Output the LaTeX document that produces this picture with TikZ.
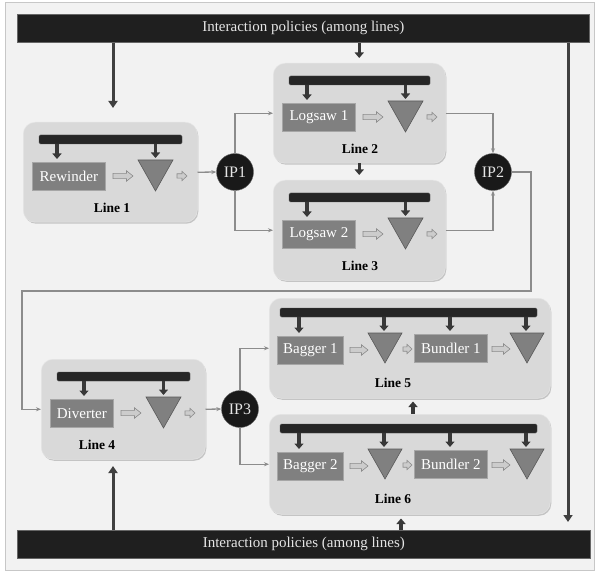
\documentclass[tikz,border=0pt]{standalone}
\usepackage{fontspec}
\setmainfont{Liberation Serif}
\usetikzlibrary{arrows.meta,shadows,calc}

\tikzset{
 frame/.style={fill=black!5, draw=black!22, line width=1pt},
 policybar/.style={fill=black!88, draw=black!60, line width=0.6pt, text=white!90!black, font=\fontsize{15}{17}\selectfont, inner sep=0pt},
 linebox/.style={rounded corners=12pt, fill=black!15, draw=black!10, line width=0.5pt, drop shadow={shadow xshift=1pt, shadow yshift=-1.5pt, fill=black!35, opacity=0.6}, inner sep=0pt},
 innerbar/.style={fill=black!85, draw=black!70, rounded corners=1.5pt},
 module/.style={fill=black!50, draw=black!35, line width=0.8pt, text=white, font=\fontsize{15}{17}\selectfont, inner sep=0pt, minimum height=28pt},
 tri/.style={fill=black!50, draw=black!65, line width=0.6pt},
 hollowstyle/.style={fill=black!20, draw=black!45, line width=0.6pt, line join=miter},
 feed/.style={draw=black!78, line width=3.2pt, -{Triangle[width=9pt,length=5.5pt]}},
 bigfeed/.style={draw=black!75, line width=3pt, -{Triangle[width=9pt,length=7pt]}},
 conn/.style={draw=black!45, line width=1.3pt, -{Stealth[length=5pt,width=4pt]}},
 ip/.style={circle, fill=black!90, draw=black!60, minimum size=37pt, inner sep=0pt, text=white!90!black, font=\fontsize{16}{18}\selectfont},
 linelabel/.style={font=\bfseries\fontsize{13.5}{15}\selectfont, inner sep=0pt},
}

% hollow block arrow: #1 x start, #2 x end, #3 y, #4 shaft half, #5 head half, #6 head length
\newcommand{\hollowarr}[6]{%
 \filldraw[hollowstyle] (#1,#3-#4) -- (#2-#6,#3-#4) -- (#2-#6,#3-#5) -- (#2,#3) -- (#2-#6,#3+#5) -- (#2-#6,#3+#4) -- (#1,#3+#4) -- cycle;
}

% #1 name #2 x #3 y #4 box width #5 module width #6 text #7 label #8 first feed rel x #9 label rel x
\newcommand{\prodline}[9]{%
 \node[linebox, minimum width=#4pt, minimum height=100pt, anchor=north west] (#1) at (#2,#3) {};
 \draw[innerbar] (#2+16,#3+13) rectangle (#2+#4-15,#3+22);
 \node[module, minimum width=#5pt, anchor=north west] (#1-m) at (#2+9,#3+40) {#6};
 \hollowarr{#2+#5+17}{#2+#5+37}{#3+54}{2.6}{5.2}{6.5}
 \draw[tri] (#2+#5+42,#3+38) -- (#2+#5+77,#3+38) -- (#2+#5+59.5,#3+69) -- cycle;
 \hollowarr{#2+#5+81}{#2+#5+91}{#3+54}{2.2}{4.6}{5}
 \draw[feed] (#2+#8,#3+22) -- (#2+#8,#3+37);
 \draw[feed] (#2+#5+59.5,#3+22) -- (#2+#5+59.5,#3+36);
 \node[linelabel] (#1-l) at (#2+#9,#3+86) {#7};
}

% #1 name #2 x #3 y #4 bagger #5 bundler #6 label
\newcommand{\packline}[6]{%
 \node[linebox, minimum width=281pt, minimum height=100pt, anchor=north west] (#1) at (#2,#3) {};
 \draw[innerbar] (#2+11,#3+10) rectangle (#2+268,#3+19);
 \node[module, minimum width=66pt, anchor=north west] (#1-m) at (#2+8,#3+38) {#4};
 \hollowarr{#2+81}{#2+99}{#3+52}{2.6}{5.2}{6.5}
 \draw[tri] (#2+99,#3+35) -- (#2+133,#3+35) -- (#2+116,#3+65) -- cycle;
 \hollowarr{#2+134}{#2+143}{#3+51}{2.2}{4.6}{5}
 \node[module, minimum width=73pt, anchor=north west] (#1-n) at (#2+145,#3+36) {#5};
 \hollowarr{#2+223}{#2+241}{#3+51}{2.6}{5.2}{6.5}
 \draw[tri] (#2+241,#3+35) -- (#2+275,#3+35) -- (#2+258,#3+65) -- cycle;
 \draw[feed] (#2+30,#3+19) -- (#2+30,#3+35);
 \draw[feed] (#2+115,#3+19) -- (#2+115,#3+33);
 \draw[feed] (#2+181,#3+19) -- (#2+181,#3+33);
 \draw[feed] (#2+257,#3+19) -- (#2+257,#3+33);
 \node[linelabel] (#1-l) at (#2+124,#3+85) {#6};
}

\begin{document}
\begin{tikzpicture}[x=1pt,y=-1pt]
\useasboundingbox (0,0) rectangle (597,572);
\draw[frame] (5,3) rectangle (594,570);

\node[policybar, minimum width=572pt, minimum height=28pt, anchor=north west] (TB) at (17,14) {Interaction policies (among lines)};
\node[policybar, minimum width=573pt, minimum height=28pt, anchor=north west] (BB) at (17,530) {Interaction policies (among lines)};

\prodline{L1}{23}{122}{174}{73}{Rewinder}{Line 1}{34}{89}
\prodline{L2}{273}{63}{172}{73}{Logsaw 1}{Line 2}{34}{87}
\prodline{L3}{273}{180}{172}{73}{Logsaw 2}{Line 3}{34}{87}
\prodline{L4}{41}{359}{164}{63}{Diverter}{Line 4}{43}{56}
\packline{L5}{269}{298}{Bagger 1}{Bundler 1}{Line 5}
\packline{L6}{269}{414}{Bagger 2}{Bundler 2}{Line 6}

\node[ip] (IP1) at (235,172) {IP1};
\node[ip] (IP2) at (493,172) {IP2};
\node[ip] (IP3) at (240,409) {IP3};

% connectors
\draw[conn] (L1.east) -- (IP1.west);
\draw[conn] (IP1.north) |- (L2.west);
\draw[conn] (IP1.south) |- (L3.west);
\draw[conn] (L2.east) -| (IP2.north);
\draw[conn] (L3.east) -| (IP2.south);
\coordinate (loopR) at (531,291);
\coordinate (loopL) at (22,291);
\draw[conn] (IP2.east) -| (loopR) -- (loopL) |- (L4.west);
\draw[conn] (L4.east) -- (IP3.west);
\draw[conn] (IP3.north) |- (L5.west);
\draw[conn] (IP3.south) |- (L6.west);

% policy feeds
\coordinate (a1) at (113,108);
\draw[bigfeed] (TB.south -| a1) -- (a1);
\draw[feed] (TB.south -| L2.north) -- ([yshift=5pt]L2.north);
\draw[feed] (L2.south) -- ([yshift=5pt]L3.north);
\coordinate (rv) at (568,522);
\draw[bigfeed] (TB.south -| rv) -- (rv);
\coordinate (a4) at (113,466);
\draw[bigfeed] (BB.north -| a4) -- (a4);
\coordinate (c56) at (413,400);
\draw[feed] (L6.north -| c56) -- ([yshift=-3pt]L5.south -| c56);
\coordinate (c6b) at (401,520);
\draw[feed] (BB.north -| c6b) -- ([yshift=-4pt]L6.south -| c6b);
\end{tikzpicture}
\end{document}
